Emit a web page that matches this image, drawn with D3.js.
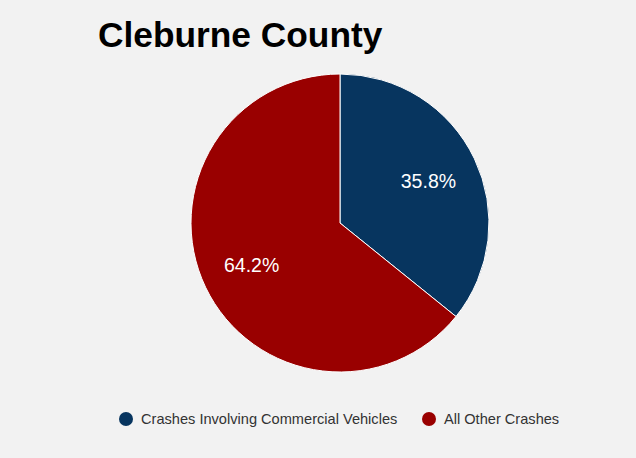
<!DOCTYPE html>
<html><head><meta charset="utf-8">
<script src="https://cdn.jsdelivr.net/npm/d3@7"></script>
<style>html,body{margin:0;padding:0;background:#f2f2f2;}</style>
</head><body>
<svg id="c" width="636" height="458"></svg>
<script>
const title = "Cleburne County";
const categories = ["Crashes Involving Commercial Vehicles", "All Other Crashes"];
const values = [35.8, 64.2];
const colors = ["#07355f", "#990000"];

const svg = d3.select("#c");
svg.append("rect").attr("width",636).attr("height",458).attr("fill","#f2f2f2");
svg.append("text").attr("x",98).attr("y",47)
  .attr("font-family","Liberation Sans, Arial, sans-serif").attr("font-weight","bold")
  .attr("font-size",35.3).attr("fill","#000").text(title);

const cx=340, cy=223, r=149;
const pie = d3.pie().sort(null).value(d=>d);
const arcs = pie(values);
const arc = d3.arc().innerRadius(0).outerRadius(r);
const labelArc = d3.arc().innerRadius(98).outerRadius(98);
const g = svg.append("g").attr("transform",`translate(${cx},${cy})`);
g.selectAll("path").data(arcs).join("path")
  .attr("d",arc).attr("fill",(d,i)=>colors[i]).attr("stroke","#ffffff").attr("stroke-width",1);
g.selectAll("text").data(arcs).join("text")
  .attr("transform",d=>`translate(${labelArc.centroid(d)})`)
  .attr("text-anchor","middle").attr("dy","0.35em")
  .attr("font-family","Liberation Sans, Arial, sans-serif").attr("font-size",19.5)
  .attr("fill","#fff").text(d=>d.data.toFixed(1)+"%");

const legendX = [126, 429];
const lg = svg.append("g");
categories.forEach((c,i)=>{
  lg.append("circle").attr("cx",legendX[i]).attr("cy",419).attr("r",7).attr("fill",colors[i]);
  lg.append("text").attr("x",legendX[i]+15).attr("y",419).attr("dy","0.35em")
    .attr("font-family","Liberation Sans, Arial, sans-serif").attr("font-size",14.6)
    .attr("fill","#333").text(c);
});
</script>
</body></html>
